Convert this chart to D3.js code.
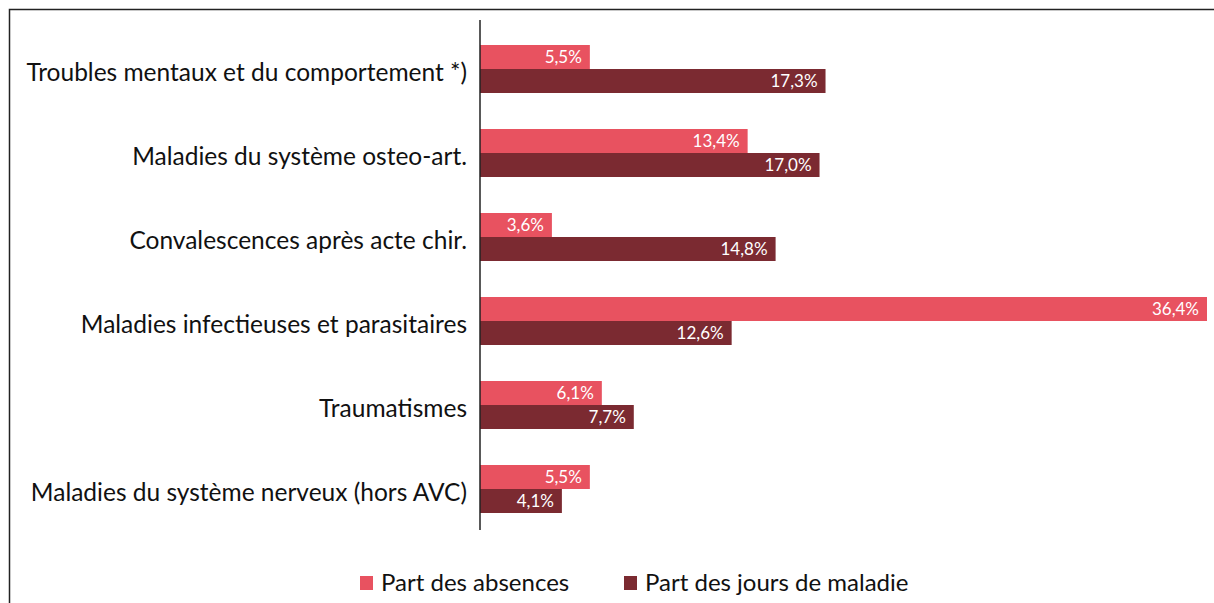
<!DOCTYPE html>
<html>
<head>
<meta charset="utf-8">
<script src="https://cdn.jsdelivr.net/npm/d3@7"></script>
<style>
  body { margin: 0; background: #fff; }
  svg { display: block; font-family: "Lato", "Open Sans", sans-serif; }
</style>
</head>
<body>
<div id="chart"></div>
<script>
// categories, top to bottom
const categories = [
    "Troubles mentaux et du comportement *)",
    "Maladies du système osteo-art.",
    "Convalescences après acte chir.",
    "Maladies infectieuses et parasitaires",
    "Traumatismes",
    "Maladies du système nerveux (hors AVC)"
];
const partAbsences = [5.5, 13.4, 3.6, 36.4, 6.1, 5.5];
const partJours = [17.3, 17.0, 14.8, 12.6, 7.7, 4.1];
const seriesNames = ["Part des absences", "Part des jours de maladie"];
const colors = ["#e85260", "#7b2a31"];

const width = 1214, height = 603;
const axisX = 480;

const svg = d3.select("#chart").append("svg")
    .attr("width", width)
    .attr("height", height);

// outer frame (goes past right and bottom edge)
svg.append("rect")
    .attr("x", 9.5).attr("y", 9.5)
    .attr("width", 1220).attr("height", 620)
    .attr("fill", "none")
    .attr("stroke", "#222")
    .attr("stroke-width", 1.5);

const y = d3.scaleBand()
    .domain(categories)
    .range([27, 531])
    .paddingInner(0.4286)
    .paddingOuter(0.2143);

const ySub = d3.scaleBand()
    .domain([0, 1])
    .range([0, y.bandwidth()]);

const x = d3.scaleLinear()
    .domain([0, 36.4])
    .range([axisX, 1207]);

const fmt = v => d3.format(".1f")(v).replace(".", ",") + "%";

const rows = categories.map((c, i) => ({ cat: c, vals: [partAbsences[i], partJours[i]] }));

const groups = svg.selectAll(".grp")
    .data(rows)
    .enter().append("g")
    .attr("class", "grp")
    .attr("transform", d => `translate(0,${y(d.cat)})`);

groups.selectAll("rect")
    .data(d => d.vals)
    .enter().append("rect")
    .attr("x", x(0))
    .attr("y", (d, i) => ySub(i))
    .attr("width", d => x(d) - x(0))
    .attr("height", ySub.bandwidth())
    .attr("fill", (d, i) => colors[i]);

groups.selectAll(".val")
    .data(d => d.vals)
    .enter().append("text")
    .attr("class", "val")
    .attr("x", d => x(d) - 8)
    .attr("y", (d, i) => ySub(i) + ySub.bandwidth() / 2)
    .attr("dy", "0.36em")
    .attr("text-anchor", "end")
    .attr("fill", "#fff")
    .style("font-size", "17px")
    .text(fmt);

// category labels
svg.selectAll(".cat")
    .data(categories)
    .enter().append("text")
    .attr("class", "cat")
    .attr("x", axisX - 13)
    .attr("y", d => y(d) + y.bandwidth() / 2 + 3)
    .attr("dy", "0.36em")
    .attr("text-anchor", "end")
    .attr("fill", "#111")
    .style("font-size", "24.5px")
    .text(d => d);

// vertical axis line
svg.append("line")
    .attr("x1", axisX).attr("x2", axisX)
    .attr("y1", 20).attr("y2", 530)
    .attr("stroke", "#222")
    .attr("stroke-width", 1.5);

// legend
const legendX = [360, 624];
const legend = svg.selectAll(".leg")
    .data(seriesNames)
    .enter().append("g")
    .attr("class", "leg")
    .attr("transform", (d, i) => `translate(${legendX[i]},576)`);

legend.append("rect")
    .attr("width", 13).attr("height", 14)
    .attr("fill", (d, i) => colors[i]);

legend.append("text")
    .attr("x", 21)
    .attr("y", 6)
    .attr("dy", "0.36em")
    .attr("fill", "#111")
    .style("font-size", "24px")
    .text(d => d);
</script>
</body>
</html>
